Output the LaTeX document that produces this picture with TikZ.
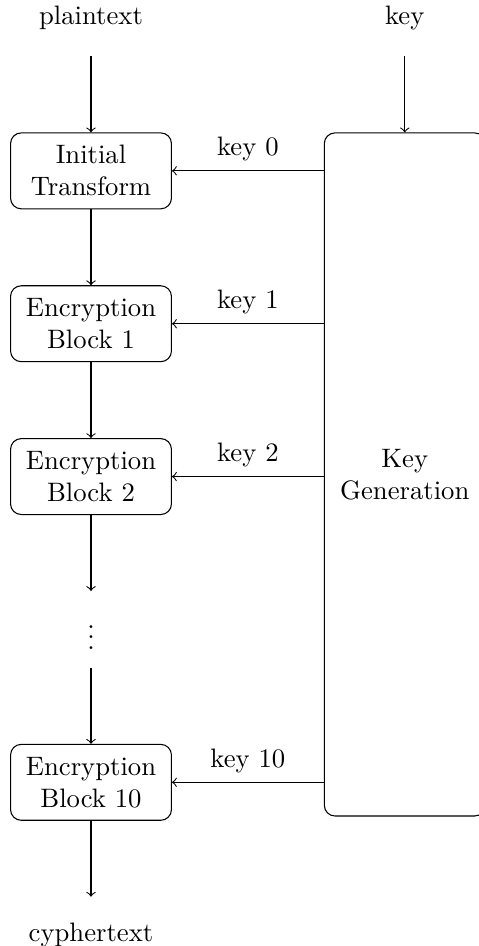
\documentclass[tikz,border=0pt]{standalone}
\usepackage{tikz}
\usetikzlibrary{positioning}
\tikzset{
  cipherbox/.style={draw, rounded corners, minimum width=2.12cm,
    minimum height=1cm, align=center},
  ionode/.style={minimum height=1cm, align=center},
  flowarrow/.style={->},
  keyarrow/.style={->}
}

\begin{document}
\begin{tikzpicture}[node distance=1cm and 2cm]

  \useasboundingbox (-1.199,0.237) rectangle (5.112,-12.227);

  \node[ionode] (plain) at (0,0) {plaintext};
  \node[cipherbox, below=of plain] (init)  {Initial\\Transform};
  \node[cipherbox, below=of init]  (enc1)  {Encryption\\Block 1};
  \node[cipherbox, below=of enc1]  (enc2)  {Encryption\\Block 2};
  \node[ionode,    below=of enc2]  (dots)  {$\vdots$};
  \node[cipherbox, below=of dots]  (enc10) {Encryption\\Block 10};
  \node[ionode,    below=of enc10] (cypher){cyphertext};

  \node[cipherbox, minimum height=9cm, right=of init.north east,
        anchor=north west] (keygen) {Key\\Generation};
  \node[ionode, above=of keygen] (key) {key};

  \draw[flowarrow] (plain) -- (init);
  \draw[flowarrow] (init)  -- (enc1);
  \draw[flowarrow] (enc1)  -- (enc2);
  \draw[flowarrow] (enc2)  -- (dots);
  \draw[flowarrow] (dots)  -- (enc10);
  \draw[flowarrow] (enc10) -- (cypher);
  \draw[flowarrow] (key)   -- (keygen);

  \draw[keyarrow] (keygen.west |- init.east)  -- node[above]{key 0}  (init.east);
  \draw[keyarrow] (keygen.west |- enc1.east)  -- node[above]{key 1}  (enc1.east);
  \draw[keyarrow] (keygen.west |- enc2.east)  -- node[above]{key 2}  (enc2.east);
  \draw[keyarrow] (keygen.west |- enc10.east) -- node[above]{key 10} (enc10.east);

\end{tikzpicture}
\end{document}
